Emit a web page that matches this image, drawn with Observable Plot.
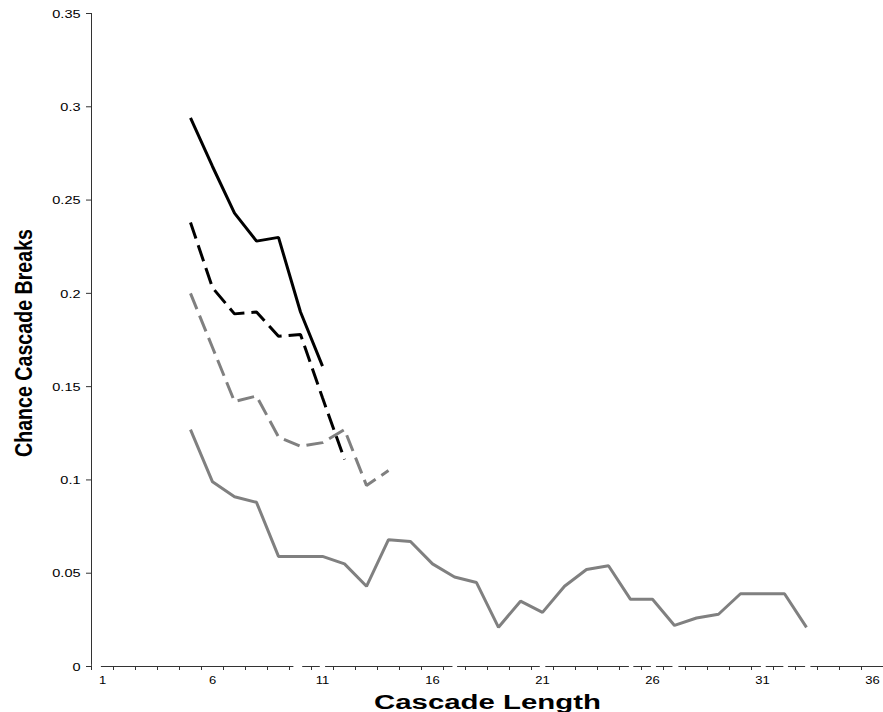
<!DOCTYPE html>
<html>
<head>
<meta charset="utf-8">
<script src="https://cdn.jsdelivr.net/npm/d3@7"></script>
<script src="https://cdn.jsdelivr.net/npm/@observablehq/plot@0.6"></script>
<style>
  body { margin: 0; background: #fff; }
</style>
</head>
<body>
<div id="chart"></div>
<script>
// ---- data ----
const firstLength = 5; // every series starts at cascade length 5
const blackSolid  = [0.294, 0.268, 0.243, 0.228, 0.230, 0.190, 0.161];
const blackDashed = [0.238, 0.203, 0.189, 0.190, 0.177, 0.178, 0.144, 0.111];
const grayDashed  = [0.200, 0.171, 0.142, 0.145, 0.123, 0.118, 0.120, 0.127, 0.097, 0.105];
const graySolid   = [0.127, 0.099, 0.091, 0.088, 0.059, 0.059, 0.059, 0.055, 0.043, 0.068,
                     0.067, 0.055, 0.048, 0.045, 0.021, 0.035, 0.029, 0.043, 0.052, 0.054,
                     0.036, 0.036, 0.022, 0.026, 0.028, 0.039, 0.039, 0.039, 0.021];

const yTicks      = [0, 0.05, 0.1, 0.15, 0.2, 0.25, 0.3, 0.35];
const yTickLabels = ["0", "0.05", "0.1", "0.15", "0.2", "0.25", "0.3", "0.35"];
const xTicks      = [1, 6, 11, 16, 21, 26, 31, 36];
const xTickLabels = ["1", "6", "11", "16", "21", "26", "31", "36"];
const xCategoryBounds = [0.5, 1.5, 2.5, 3.5, 4.5, 5.5, 6.5, 7.5, 8.5, 9.5, 10.5, 11.5,
                         12.5, 13.5, 14.5, 15.5, 16.5, 17.5, 18.5, 19.5, 20.5, 21.5, 22.5,
                         23.5, 24.5, 25.5, 26.5, 27.5, 28.5, 29.5, 30.5, 31.5, 32.5, 33.5,
                         34.5, 35.5, 36.5];
// breaks visible in the category axis line (in cascade-length units)
const axisGaps = [[0.54, 0.95], [9.7, 10.1], [10.9, 11.14], [16.93, 17.14], [20.9, 21.15],
                  [24.95, 25.15], [25.95, 26.18], [26.93, 27.2], [30.95, 31.17],
                  [31.97, 32.18], [32.96, 33.2]];

const xTitle = "Cascade Length";
const yTitle = "Chance Cascade Breaks";

const rows = (vals) => vals.map((v, i) => ({len: firstLength + i, v}));

const axisColor = "#333";
const gray = "#808080";

const svg = Plot.plot({
  width: 883,
  height: 712,
  marginLeft: 91,
  marginRight: 0,
  marginTop: 13,
  marginBottom: 46,
  x: {domain: [0.5, 36.5], axis: null},
  y: {domain: [0, 0.35], axis: null},
  style: {
    fontFamily: "'Liberation Sans', Arial, sans-serif",
    background: "#fff",
    color: "#000",
    overflow: "visible"
  },
  marks: [
    // y axis line + ticks
    Plot.ruleX([0.5], {y1: 0, y2: 0.35, stroke: axisColor}),
    Plot.ruleY(yTicks, {x1: 0.5, x2: 0.5, insetLeft: -5, stroke: axisColor}),
    // x axis line with its breaks, then category ticks
    Plot.ruleY([0], {x1: 0.5, x2: 36.5, stroke: axisColor}),
    Plot.rect(axisGaps, {x1: d => d[0], x2: d => d[1], y1: 0, y2: 0, insetTop: -2, insetBottom: -2, fill: "#fff"}),
    Plot.ruleX(xCategoryBounds, {y1: 0, y2: 0, insetBottom: -4, stroke: axisColor}),

    // series
    Plot.line(rows(graySolid),   {x: "len", y: "v", stroke: gray, strokeWidth: 3, strokeLinecap: "butt", strokeLinejoin: "miter"}),
    Plot.line(rows(grayDashed),  {x: "len", y: "v", stroke: gray, strokeWidth: 3, strokeDasharray: "17,7", strokeLinecap: "butt", strokeLinejoin: "miter"}),
    Plot.line(rows(blackDashed), {x: "len", y: "v", stroke: "#000", strokeWidth: 3, strokeDasharray: "17,7", strokeLinecap: "butt", strokeLinejoin: "miter"}),
    Plot.line(rows(blackSolid),  {x: "len", y: "v", stroke: "#000", strokeWidth: 3, strokeLinecap: "butt", strokeLinejoin: "miter"}),

    // tick labels
    Plot.text(yTicks, {x: 0.5, y: d => d, text: (d, i) => yTickLabels[i], textAnchor: "end", dx: -11, dy: 1, fontSize: 10, fill: "#000", ariaLabel: () => "ytl"}),
    Plot.text(xTicks, {x: d => d, y: 0, text: (d, i) => xTickLabels[i], dy: 14, fontSize: 10, fill: "#000", ariaLabel: () => "xtl"}),

    // axis titles
    Plot.text([xTitle], {text: d => d, frameAnchor: "bottom", textAnchor: "middle", dy: 42, fontSize: 19.5, fontWeight: "bold", fill: "#000", ariaLabel: () => "xt"}),
    Plot.text([yTitle], {text: d => d, frameAnchor: "left", textAnchor: "middle", dx: -67, dy: 3, rotate: -90, fontSize: 23, fontWeight: "bold", fill: "#000", ariaLabel: () => "yt"})
  ]
});

document.getElementById("chart").append(svg);

// The reference renders its text horizontally stretched; reproduce with textLength.
const fit = {ytl: {k: 1.45}, xtl: {k: 1.3}, xt: {len: 227}, yt: {len: 228}};
svg.querySelectorAll("text").forEach(t => {
  const f = fit[t.getAttribute("aria-label")];
  if (!f) return;
  const L = f.len != null ? f.len : t.getComputedTextLength() * f.k;
  t.setAttribute("textLength", L);
  t.setAttribute("lengthAdjust", "spacingAndGlyphs");
});
</script>
</body>
</html>
